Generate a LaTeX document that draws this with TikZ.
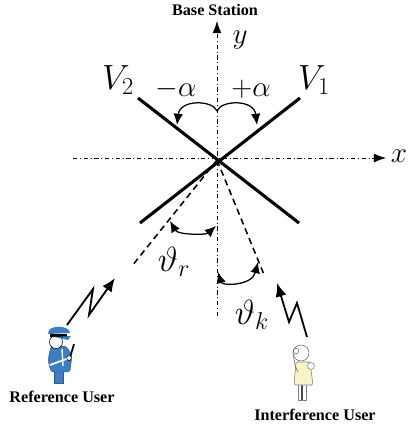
\documentclass[tikz,border=0pt]{standalone}
\usepackage{fontspec}
\setmainfont{Liberation Serif}
\usetikzlibrary{arrows.meta}
\definecolor{azulpoli}{RGB}{59,126,196}
\definecolor{vestido}{RGB}{250,243,196}
\tikzset{
    eje/.style={line width=0.6pt,dash dot,-{Latex[length=3mm,width=2.2mm]}},
    antena/.style={line width=2.2pt},
    rayo/.style={dash pattern=on 4.5pt off 3pt,line width=1.1pt},
    angulo/.style={line width=0.9pt,-{Latex[length=2.8mm,width=2.4mm]}},
    dosang/.style={line width=0.9pt,{Latex[length=2.8mm,width=2.4mm]}-{Latex[length=2.8mm,width=2.4mm]}},
    enlace/.style={line width=1.3pt,-{Latex[length=3.4mm,width=2.8mm]}},
    etiq/.style={inner sep=0pt,font=\bfseries\fontsize{11.5}{13}\selectfont},
    simb/.style={inner sep=0pt,font=\fontsize{21}{24}\selectfont},
    simbg/.style={inner sep=0pt,font=\fontsize{24}{28}\selectfont},
}
\begin{document}
\begin{tikzpicture}[x=0.025cm,y=-0.025cm]
                \useasboundingbox (0,0) rectangle (408,430);
                \coordinate (O) at (217,160); % estacion base
                \coordinate (xi) at (73,158);
                \coordinate (xf) at (386,158);
                \coordinate (yi) at (217,316);
                \coordinate (yf) at (217,21);
                \draw[eje] (xi) -- (xf); % eje x
                \draw[eje] (yi) -- (yf); % eje y
                \node[simb] (lx) at (399,156) {$x$};
                \node[simb] (ly) at (240,40) {$y$};
                \node[etiq] (base) at (215,10) {Base Station};
                % antenas V1 y V2
                \coordinate (v1a) at (300,98);
                \coordinate (v1b) at (140,223);
                \coordinate (v2a) at (138,98);
                \coordinate (v2b) at (299,223);
                \draw[antena] (v1a) -- (v1b);
                \draw[antena] (v2a) -- (v2b);
                \node[simbg] (lV1) at (314,80) {$V_1$};
                \node[simbg] (lV2) at (118,80) {$V_2$};
                % angulos alfa
                \coordinate (ta) at (217,111);
                \coordinate (ma) at (177,125);
                \coordinate (pa) at (257,125);
                \draw[angulo] (ta) .. controls (213,100) and (180,99) .. (ma);
                \draw[angulo] (ta) .. controls (221,100) and (254,99) .. (pa);
                \node[simb] (lma) at (176,89) {$-\alpha$};
                \node[simb] (lpa) at (251,89) {$+\alpha$};
                % direcciones de los usuarios
                \coordinate (dr) at (132,266);
                \coordinate (dk) at (265,277);
                \draw[rayo] (O) -- (dr);
                \draw[rayo] (O) -- (dk);
                \coordinate (r1) at (170,221);
                \coordinate (r2) at (216,226);
                \draw[dosang] (r1) .. controls (178,235) and (206,235) .. (r2);
                \coordinate (k1) at (218,272);
                \coordinate (k2) at (258,262);
                \draw[dosang] (k1) .. controls (222,286) and (252,286) .. (k2);
                \node[simbg] (lr) at (174,262) {$\vartheta_r$};
                \node[simbg] (lk) at (252,315) {$\vartheta_k$};
                % enlaces (rayos)
                \coordinate (e0) at (67,325);
                \coordinate (e1) at (93,289);
                \coordinate (e2) at (89,315);
                \coordinate (e3) at (115,278);
                \draw[enlace] (e0) -- (e1) -- (e2) -- (e3);
                \coordinate (f0) at (307,337);
                \coordinate (f1) at (297,303);
                \coordinate (f2) at (289,322);
                \coordinate (f3) at (277,283);
                \draw[enlace] (f0) -- (f1) -- (f2) -- (f3);
                % usuario de referencia (policia)
                \filldraw[fill=azulpoli,draw=azulpoli!70!black,line width=0.3pt] (54,370) rectangle (63,383);
                \filldraw[fill=azulpoli,draw=azulpoli!70!black,line width=0.3pt,rounded corners=2pt]
                    (51,346) -- (66,346) -- (72,355) -- (70,372) -- (51,372) -- (48,360) -- cycle;
                \draw[white,line width=1.3pt] (50,365) -- (69,358);
                \draw[white,line width=1pt] (62,349) -- (63,366);
                \filldraw[fill=white,draw=black,line width=0.4pt] (56,342) circle (6.5);
                \fill[azulpoli] (48,334) .. controls (47,324) and (70,325) .. (70,333) -- cycle;
                \fill[black] (50,334) rectangle (67,337);
                \fill[azulpoli] (55,337) -- (71,336) -- (68,340) -- cycle;
                \draw[line width=1.2pt] (74,344) -- (69,361);
                \filldraw[fill=white,draw=black,line width=0.3pt] (69,358) circle (2.3);
                \node[etiq] (ref) at (62,397) {Reference User};
                % usuario interferente
                \filldraw[fill=white,draw=gray,line width=0.4pt] (298,383) rectangle (306,400);
                \draw[gray!60!black,line width=0.8pt] (302,385) -- (302,400);
                \filldraw[fill=vestido,draw=gray,line width=0.4pt,rounded corners=1pt]
                    (296,362) -- (310,362) -- (313,385) -- (294,385) -- cycle;
                \filldraw[fill=white,draw=gray,line width=0.4pt] (311,366) circle (3.5);
                \filldraw[fill=white,draw=gray!80!black,line width=0.4pt] (301,353) circle (8);
                \draw[gray!80!black,line width=0.4pt] (296,351) circle (2.8);
                \draw[gray!80!black,line width=0.4pt] (294,354) .. controls (293,362) and (296,368) .. (298,372);
                \node[etiq] (int) at (315,415) {Interference User};
            \end{tikzpicture}
\end{document}
